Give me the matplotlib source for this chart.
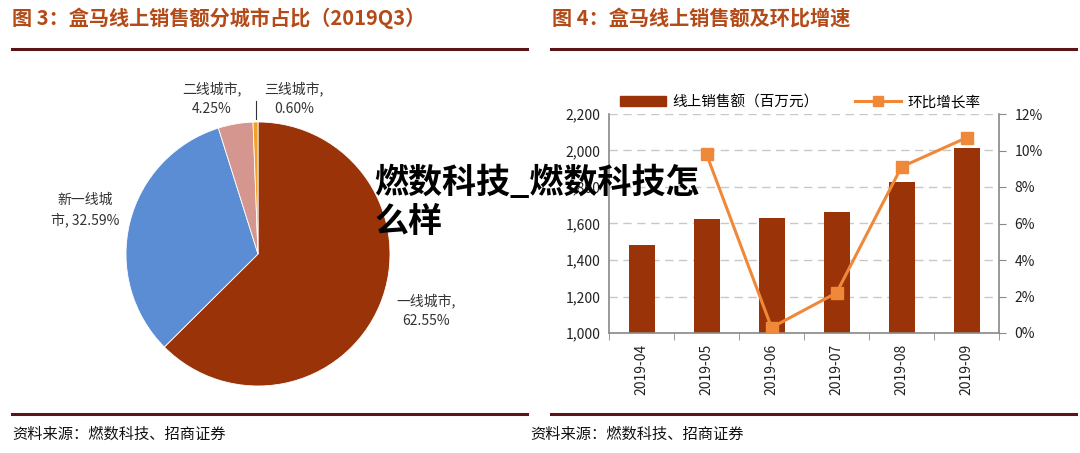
import matplotlib
matplotlib.use("Agg")
import matplotlib.pyplot as plt
import numpy as np
from matplotlib.lines import Line2D
from matplotlib.patches import Patch

plt.rcParams['font.family'] = ['Noto Sans CJK SC', 'DejaVu Sans']

W, H = 1080, 453

# ---------------- data ----------------
pie_labels = ['一线城市', '新一线城市', '二线城市', '三线城市']
pie_values = [62.55, 32.59, 4.25, 0.60]
pie_colors = ['#9A3308', '#5B8DD5', '#D59690', '#F4A11F']

months = ['2019-04', '2019-05', '2019-06', '2019-07', '2019-08', '2019-09']
sales = [1480, 1625, 1630, 1665, 1825, 2015]
growth = [np.nan, 9.8, 0.3, 2.2, 9.1, 10.7]

bar_color = '#9A3308'
line_color = '#F0883A'
title_color = '#B34A17'
rule_color = '#5A1518'

def fx(x):
    return x / W

def fy(y):
    return 1 - y / H

fig = plt.figure(figsize=(10.8, 4.53), dpi=100)
fig.patch.set_facecolor('white')

# ---------------- titles and rules ----------------
fig.text(fx(12), fy(18), '图 3：盒马线上销售额分城市占比（2019Q3）', fontsize=14.5,
         fontweight='bold', color=title_color, va='center', ha='left')
fig.text(fx(552), fy(18), '图 4：盒马线上销售额及环比增速', fontsize=14.5,
         fontweight='bold', color=title_color, va='center', ha='left')

for (x0, x1) in [(12, 527), (551, 1076)]:
    fig.add_artist(Line2D([fx(x0), fx(x1)], [fy(49), fy(49)], color=rule_color, lw=2.2))
    fig.add_artist(Line2D([fx(x0), fx(x1)], [fy(414), fy(414)], color=rule_color, lw=2.2))

fig.text(fx(12), fy(434), '资料来源：燃数科技、招商证券', fontsize=11, color='#111111',
         va='center', ha='left')
fig.text(fx(530), fy(434), '资料来源：燃数科技、招商证券', fontsize=11, color='#111111',
         va='center', ha='left')

# ---------------- pie ----------------
cx, cy, r = 258, 254, 132
axp = fig.add_axes([fx(cx - r), fy(cy + r), (2 * r) / W, (2 * r) / H])
axp.pie(pie_values, colors=pie_colors, startangle=90, counterclock=False,
        wedgeprops=dict(linewidth=0.6, edgecolor='white'))
axp.set_xlim(-1.0, 1.0)
axp.set_ylim(-1.0, 1.0)
axp.set_aspect('equal')
axp.axis('off')

lbl_kw = dict(fontsize=10, color='#333333', va='center', ha='center', linespacing=1.5)
fig.text(fx(212), fy(99), f'{pie_labels[2]},\n{pie_values[2]:.2f}%', **lbl_kw)
fig.text(fx(294), fy(99), f'{pie_labels[3]},\n{pie_values[3]:.2f}%', **lbl_kw)
fig.text(fx(85), fy(210), '新一线城\n市, ' + f'{pie_values[1]:.2f}%', **lbl_kw)
fig.text(fx(426), fy(311), f'{pie_labels[0]},\n{pie_values[0]:.2f}%', **lbl_kw)
fig.add_artist(Line2D([fx(256), fx(256)], [fy(101), fy(119)], color='#333333', lw=0.8))

# ---------------- bar + line ----------------
ax = fig.add_axes([fx(609), fy(333), (999 - 609) / W, (333 - 114) / H])
x = np.arange(len(months))
ax.bar(x, sales, width=0.4, color=bar_color, zorder=2)
ax.set_ylim(1000, 2200)
ax.set_xlim(-0.5, len(months) - 0.5)
ax.set_yticks(np.arange(1000, 2201, 200))
ax.set_yticklabels([f'{v:,}' for v in range(1000, 2201, 200)])
ax.set_xticks(x)
ax.set_xticklabels(months, rotation=90)
ax.set_xticks(np.arange(-0.5, len(months), 1), minor=True)
ax.tick_params(axis='x', which='major', length=0, pad=8)
ax.tick_params(axis='x', which='minor', length=5, color='#888888')
ax.tick_params(axis='y', length=0, pad=6)
ax.tick_params(labelsize=10, labelcolor='#222222')
ax.yaxis.grid(True, linestyle=(0, (6, 4)), color='#C8C8C8', lw=1, zorder=0)
ax.set_axisbelow(True)
for s in ['top', 'right']:
    ax.spines[s].set_visible(False)
for s in ['left', 'bottom']:
    ax.spines[s].set_color('#888888')
    ax.spines[s].set_linewidth(1.2)

ax2 = ax.twinx()
ax2.plot(x, growth, color=line_color, lw=2.2, marker='s', markersize=8,
         markerfacecolor=line_color, markeredgecolor=line_color, zorder=3)
ax2.set_ylim(0, 12)
ax2.set_yticks(np.arange(0, 13, 2))
ax2.set_yticklabels([f'{v}%' for v in range(0, 13, 2)])
ax2.tick_params(axis='y', length=5, direction='out', color='#888888', labelsize=10,
                labelcolor='#222222', pad=6)
for s in ['top', 'left', 'bottom']:
    ax2.spines[s].set_visible(False)
ax2.spines['right'].set_color('#888888')
ax2.spines['right'].set_linewidth(1.2)

handles = [Patch(facecolor=bar_color, edgecolor=bar_color),
           Line2D([0], [0], color=line_color, lw=2.2, marker='s', markersize=7)]
fig.legend(handles, ['线上销售额（百万元）', '环比增长率'], ncol=2, frameon=False,
           loc='center', bbox_to_anchor=(fx(800), fy(102)), fontsize=10.5,
           handlelength=3.2, columnspacing=2.5, handletextpad=0.4)

# ---------------- watermark text ----------------
fig.text(fx(374), fy(202), '燃数科技_燃数科技怎\n么样', fontsize=24.5, fontweight='bold',
         color='black', va='center', ha='left', linespacing=1.15, zorder=10)

fig.savefig('out.png', dpi=100, facecolor='white')
